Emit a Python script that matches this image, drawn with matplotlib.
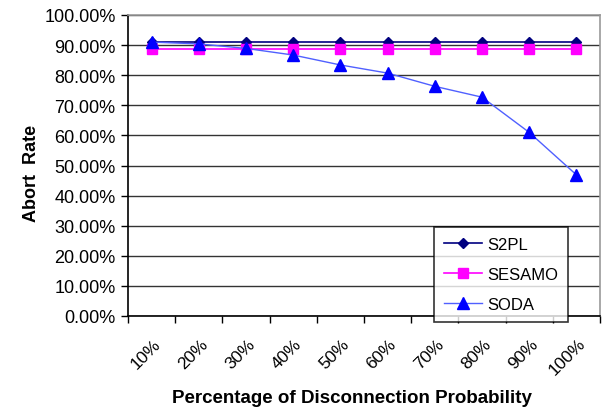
import matplotlib
matplotlib.use("Agg")
import matplotlib.pyplot as plt
from matplotlib.ticker import FuncFormatter, MultipleLocator
from matplotlib.transforms import ScaledTranslation
import numpy as np

plt.rcParams['font.family'] = ['Liberation Sans', 'DejaVu Sans']

categories = ['10%', '20%', '30%', '40%', '50%', '60%', '70%', '80%', '90%', '100%']
s2pl = [90.9, 90.9, 90.9, 90.9, 90.9, 90.9, 90.9, 90.9, 90.9, 90.9]
sesamo = [88.8, 88.8, 88.8, 88.8, 88.8, 88.8, 88.8, 88.8, 88.8, 88.8]
soda = [91.0, 90.4, 88.9, 86.7, 83.4, 80.7, 76.3, 72.7, 61.0, 46.9]

fig = plt.figure(figsize=(6.03, 4.10), dpi=100)
ax = fig.add_axes([128 / 603, 93 / 410, 472 / 603, 301 / 410])

x = np.arange(len(categories)) + 0.5

ax.plot(x, s2pl, color='#000080', marker='D', markersize=5, linewidth=1.2, label='S2PL', zorder=3)
ax.plot(x, sesamo, color='#FF00FF', marker='s', markersize=7, linewidth=1.2, label='SESAMO', zorder=3)
ax.plot(x, soda, color='#5060FF', marker='^', markersize=8, markerfacecolor='#0000FF',
        markeredgecolor='#0000FF', linewidth=1.0, label='SODA', zorder=4)

ax.set_xlim(0, len(categories))
ax.set_ylim(0, 100)

# y axis: percent labels every 10
ax.yaxis.set_major_locator(MultipleLocator(10))
ax.yaxis.set_major_formatter(FuncFormatter(lambda v, p: f'{v:.2f}%'))
ax.grid(axis='y', color='#333333', linewidth=1.0, zorder=0)
ax.tick_params(axis='y', direction='out', length=5, width=1, labelsize=13, pad=4)

# x axis: tick marks on category boundaries, labels at centres
ax.set_xticks(np.arange(len(categories) + 1), minor=True)
ax.set_xticks(x)
ax.set_xticklabels(categories, rotation=45, ha='right', rotation_mode='anchor', fontsize=12.5)
ax.tick_params(axis='x', which='major', length=0, pad=14)
ax.tick_params(axis='x', which='minor', direction='out', length=5, width=1)
shift = ScaledTranslation(1 / 100, 0, fig.dpi_scale_trans)
for lbl in ax.get_xticklabels():
    lbl.set_transform(lbl.get_transform() + shift)

for side in ['left', 'bottom']:
    ax.spines[side].set_color('black')
    ax.spines[side].set_linewidth(1.2)
for side in ['top', 'right']:
    ax.spines[side].set_color('#999999')
    ax.spines[side].set_linewidth(1.2)

ax.set_ylabel('Abort  Rate', fontsize=13, fontweight='bold', va='center')
ax.yaxis.set_label_coords(-0.205, 0.477)
ax.set_xlabel('Percentage of Disconnection Probability', fontsize=13.5, fontweight='bold', va='center')
ax.xaxis.set_label_coords(0.475, -0.272)

leg = ax.legend(loc='upper left', bbox_to_anchor=(434 / 603, 1 - 228 / 410),
                bbox_transform=fig.transFigure, fontsize=12, frameon=True, fancybox=False,
                edgecolor='black', handlelength=2.3, borderpad=0.6, labelspacing=0.9,
                handletextpad=0.3, borderaxespad=0)
leg.get_frame().set_linewidth(1.2)
leg.set_zorder(5)

fig.savefig('out.png', dpi=100)
